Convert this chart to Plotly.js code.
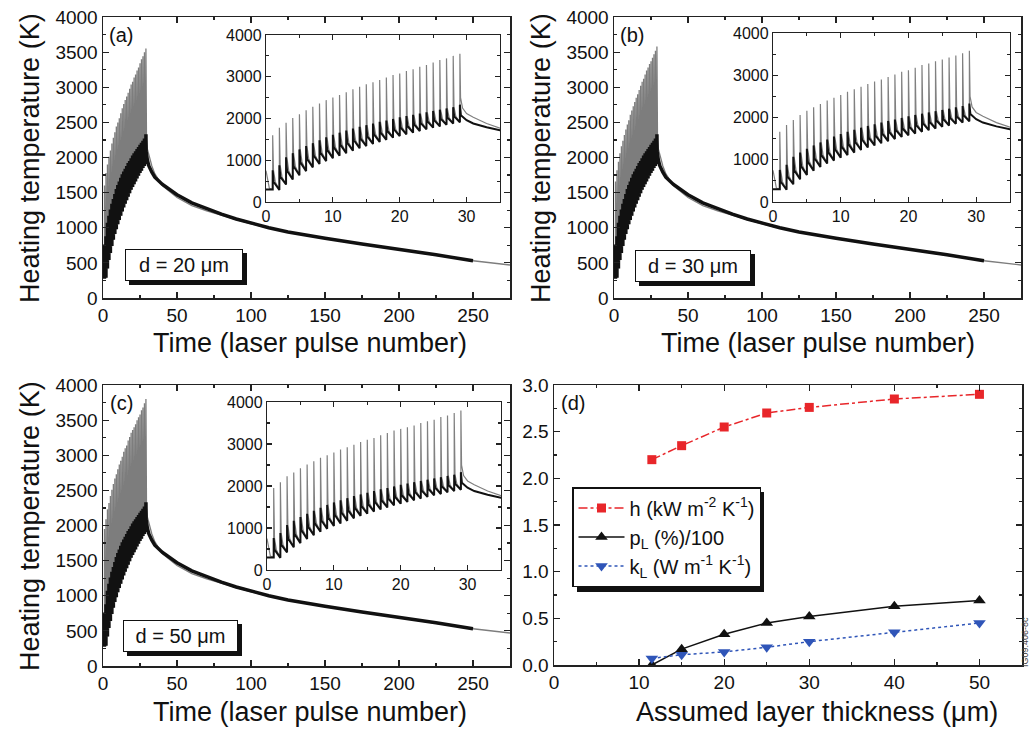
<!DOCTYPE html>
<html><head><meta charset="utf-8">
<script src="https://cdn.plot.ly/plotly-3.0.1.min.js"></script>
<style>html,body{margin:0;padding:0;background:#fff}#chart{width:1029px;height:731px}</style>
</head><body><div id="chart"></div>
<script>
// ---------- data ----------
const pulseNo = [1,2,3,4,5,6,7,8,9,10,11,12,13,14,15,16,17,18,19,20,21,22,23,24,25,26,27,28,29];
// black (surface) curve: value just before each pulse, spike top, value shortly after the spike
const troughT   = [300,290,420,540,640,740,830,910,980,1050,1110,1170,1230,1290,1340,1390,1440,1490,1540,1580,1620,1660,1700,1740,1780,1810,1850,1880,1910];
const blackPeak = [760,880,1070,1170,1260,1340,1410,1480,1550,1610,1660,1710,1760,1800,1840,1880,1920,1950,1990,2030,2060,2090,2120,2150,2180,2210,2240,2270,2330];
const blackKnee = [480,600,750,850,950,1030,1110,1180,1250,1310,1370,1420,1480,1520,1570,1620,1660,1700,1740,1780,1820,1860,1890,1930,1960,1990,2020,2050,2080];
// grey curve spike tops per panel
const greyPeakA = [1600,1780,1900,2010,2100,2200,2280,2360,2440,2500,2560,2630,2700,2760,2820,2870,2920,2980,3040,3080,3140,3180,3240,3280,3340,3400,3440,3500,3550];
const greyPeakB = [1660,1820,1940,2060,2160,2240,2320,2400,2470,2530,2610,2670,2730,2790,2850,2900,2960,3020,3080,3120,3180,3240,3280,3330,3370,3420,3470,3520,3580];
const greyPeakC = [1950,2090,2230,2320,2420,2510,2590,2670,2730,2800,2870,2920,2980,3050,3100,3140,3210,3260,3320,3360,3400,3440,3500,3540,3580,3640,3680,3740,3800];
// grey curve before the first pulse
const greyStartX = [0, 0.5];
const greyStart  = [750, 330];
// cooling after the last pulse
const tailBlackX = [29.15,30,31,33,35,40,50,60,70,80,90,100,112,125,137,150,175,200,225,250];
const tailBlack  = [2080,1960,1880,1790,1720,1620,1470,1355,1270,1195,1125,1065,1000,940,893,850,770,695,615,530];
const tailGreyX  = [29.1,29.4,30,31,33,35,40,50,60,70,80,90,100,112,125,137,150,175,200,225,250,275];
const tailGrey   = [2500,2250,2120,2030,1880,1770,1600,1430,1315,1240,1175,1110,1055,995,935,890,845,765,690,612,530,470];
// panel (d)
const thickness = [11.5,15,20,25,30,40,50];
const hVals  = [2.20,2.35,2.55,2.70,2.76,2.85,2.90];
const pLVals = [0.00,0.17,0.33,0.45,0.52,0.63,0.69];
const kLVals = [0.07,0.11,0.14,0.19,0.25,0.35,0.45];
const seriesNames = ['h (kW m<sup>-2</sup> K<sup>-1</sup>)','p<sub>L</sub> (%)/100','k<sub>L</sub> (W m<sup>-1</sup> K<sup>-1</sup>)'];
const boxLabels = ['d = 20 μm','d = 30 μm','d = 50 μm'];
const panelLabels = ['(a)','(b)','(c)','(d)'];
const yTitle = 'Heating temperature (K)';
const xTitleT = 'Time (laser pulse number)';
const xTitleD = 'Assumed layer thickness (μm)';

// ---------- helpers ----------
const W = 1029, H = 731;
const px = v => v / W;
const py = v => 1 - v / H;
const FONT = 'Liberation Sans, Arial, Helvetica, sans-serif';

function greySeries(peaks){
  const x = greyStartX.slice(), y = greyStart.slice();
  const last = pulseNo.length - 1;
  pulseNo.forEach((n,i)=>{
    x.push(n, n); y.push(troughT[i], peaks[i]);
    if(i < last){ x.push(n+0.12, n+0.4); y.push(blackPeak[i], blackKnee[i]); }
  });
  tailGreyX.forEach((t,j)=>{ x.push(t); y.push(tailGrey[j]); });
  return {x, y};
}
function blackSeries(){
  const x = [0], y = [troughT[0]];
  const last = pulseNo.length - 1;
  pulseNo.forEach((n,i)=>{
    x.push(n, n); y.push(troughT[i], blackPeak[i]);
    if(i < last){ x.push(n+0.15); y.push(blackKnee[i]); }
  });
  tailBlackX.forEach((t,j)=>{ x.push(t); y.push(tailBlack[j]); });
  return {x, y};
}

const traces = [];
const greyPeaks = [greyPeakA, greyPeakB, greyPeakC];
const blk = blackSeries();
// axis pairs: main a=1, inset a=2, main b=3, inset b=4, main c=5, inset c=6, d=7
for(let p=0;p<3;p++){
  const g = greySeries(greyPeaks[p]);
  const mainIdx = 2*p+1, insIdx = 2*p+2;
  const ax = i => i===1 ? '' : String(i);
  traces.push({x:g.x, y:g.y, xaxis:'x'+ax(mainIdx), yaxis:'y'+ax(mainIdx), mode:'lines',
    line:{color:'#7d7d7d', width:1.3}, showlegend:false, hoverinfo:'skip'});
  traces.push({x:blk.x, y:blk.y, xaxis:'x'+ax(mainIdx), yaxis:'y'+ax(mainIdx), mode:'lines',
    line:{color:'#111', width:3.5}, showlegend:false, hoverinfo:'skip'});
  traces.push({x:g.x, y:g.y, xaxis:'x'+insIdx, yaxis:'y'+insIdx, mode:'lines',
    line:{color:'#808080', width:1.2}, showlegend:false, hoverinfo:'skip'});
  traces.push({x:blk.x, y:blk.y, xaxis:'x'+insIdx, yaxis:'y'+insIdx, mode:'lines',
    line:{color:'#111', width:2}, showlegend:false, hoverinfo:'skip'});
}
traces.push({x:thickness, y:hVals, xaxis:'x7', yaxis:'y7', mode:'lines+markers', name:seriesNames[0],
  line:{color:'#e8262a', width:1.5, dash:'dashdot'}, marker:{symbol:'square', size:9, color:'#e8262a'}});
traces.push({x:thickness, y:pLVals, xaxis:'x7', yaxis:'y7', mode:'lines+markers', name:seriesNames[1],
  line:{color:'#111', width:1.5}, marker:{symbol:'triangle-up', size:11, color:'#111'}});
traces.push({x:thickness, y:kLVals, xaxis:'x7', yaxis:'y7', mode:'lines+markers', name:seriesNames[2],
  line:{color:'#2f55b8', width:1.5, dash:'dot'}, marker:{symbol:'triangle-down', size:11, color:'#2f55b8'}});

function axisBase(extra){
  return Object.assign({
    showline:true, linecolor:'#222', linewidth:1.5, mirror:'allticks',
    ticks:'inside', ticklen:6, tickwidth:1.2, tickcolor:'#222',
    showgrid:false, zeroline:false, fixedrange:true,
    tickfont:{family:FONT, size:19, color:'#111'}
  }, extra);
}
const layout = {
  width:W, height:H, margin:{l:0,r:0,t:0,b:0},
  paper_bgcolor:'#fff', plot_bgcolor:'rgba(0,0,0,0)',
  font:{family:FONT, color:'#111'},
  showlegend:true,
  legend:{x:px(572), y:py(487), xanchor:'left', yanchor:'top', bgcolor:'#fff',
    bordercolor:'#111', borderwidth:1.5, font:{family:FONT, size:20, color:'#111'},
    tracegroupgap:0, itemwidth:46},
};
// main panels
const mainDom = [ {x:[103,510], y:[17,298]}, {x:[614,1021], y:[17,298]}, {x:[103,510], y:[385,666]} ];
const insDom  = [ {x:[266,500], y:[35,202]}, {x:[773,1010], y:[33,202]}, {x:[267,501], y:[402,570]} ];
for(let p=0;p<3;p++){
  const m = 2*p+1, s = 2*p+2;
  const kx = m===1 ? 'xaxis' : 'xaxis'+m, ky = m===1 ? 'yaxis' : 'yaxis'+m;
  layout[kx] = axisBase({domain:[px(mainDom[p].x[0]), px(mainDom[p].x[1])], range:[0,275], tick0:0, dtick:50,
    anchor: m===1 ? 'y' : 'y'+m, minor:{ticks:'inside', ticklen:3, dtick:25, tick0:0, tickcolor:'#222'}});
  layout[ky] = axisBase({domain:[py(mainDom[p].y[1]), py(mainDom[p].y[0])], range:[0,4000], tick0:0, dtick:500,
    anchor: m===1 ? 'x' : 'x'+m, minor:{ticks:'inside', ticklen:3, dtick:250, tick0:0, tickcolor:'#222'}});
  layout['xaxis'+s] = axisBase({domain:[px(insDom[p].x[0]), px(insDom[p].x[1])], range:[0,35], tick0:0, dtick:10,
    anchor:'y'+s, ticklen:5, linewidth:1.2, tickfont:{family:FONT, size:16, color:'#111'},
    minor:{ticks:'inside', ticklen:3, dtick:5, tick0:0, tickcolor:'#222'}});
  layout['yaxis'+s] = axisBase({domain:[py(insDom[p].y[1]), py(insDom[p].y[0])], range:[0,4000], tick0:0, dtick:1000,
    anchor:'x'+s, ticklen:5, linewidth:1.2, tickfont:{family:FONT, size:16, color:'#111'},
    minor:{ticks:'inside', ticklen:3, dtick:500, tick0:0, tickcolor:'#222'}});
}
layout.xaxis7 = axisBase({domain:[px(554), px(1022)], range:[0,55], tick0:0, dtick:10, anchor:'y7',
  minor:{ticks:'inside', ticklen:3, dtick:5, tick0:0, tickcolor:'#222'}});
layout.yaxis7 = axisBase({domain:[py(665), py(385)], range:[0,3.0], tick0:0, dtick:0.5, tickformat:'.1f', anchor:'x7',
  minor:{ticks:'inside', ticklen:3, dtick:0.25, tick0:0, tickcolor:'#222'}});

const ann = [];
function addText(text, x, y, size, extra){
  ann.push(Object.assign({text, x:px(x), y:py(y), xref:'paper', yref:'paper', showarrow:false,
    font:{family:FONT, size:size, color:'#111'}, xanchor:'center', yanchor:'middle'}, extra||{}));
}
// axis titles
addText(yTitle, 30, 158, 27, {textangle:-90});
addText(yTitle, 541, 158, 27, {textangle:-90});
addText(yTitle, 30, 526, 27, {textangle:-90});
addText(xTitleT, 310, 343, 27);
addText(xTitleT, 818, 343, 27);
addText(xTitleT, 310, 712, 27);
addText(xTitleD, 817, 712, 27);
// panel labels
addText(panelLabels[0], 121, 35, 20);
addText(panelLabels[1], 632, 35, 20);
addText(panelLabels[2], 121, 403, 20);
addText(panelLabels[3], 573, 403, 20);
// thickness boxes with drop shadow
const boxes = [[125,249,118,32],[635,250,116,32],[123,620,115,32]];
const shapes = [];
boxes.forEach((b,i)=>{
  shapes.push({type:'rect', xref:'paper', yref:'paper', x0:px(b[0]+4), x1:px(b[0]+b[2]+4), y0:py(b[1]+b[3]+4), y1:py(b[1]+4),
    fillcolor:'#111', line:{width:0}, layer:'above'});
  ann.push({text:boxLabels[i], x:px(b[0]+b[2]/2), y:py(b[1]+b[3]/2), xref:'paper', yref:'paper', showarrow:false,
    xanchor:'center', yanchor:'middle', width:b[2]-4, height:b[3]-4, borderpad:1, bgcolor:'#fff',
    bordercolor:'#111', borderwidth:1, font:{family:FONT, size:20, color:'#111'}});
});
// legend shadow
shapes.push({type:'rect', xref:'paper', yref:'paper', x0:px(577), x1:px(764), y0:py(592), y1:py(492),
  fillcolor:'#111', line:{width:0}, layer:'above'});
// small rotated figure id at right edge
addText('IG09.406-8c', 1025, 642, 9, {textangle:-90, font:{family:FONT, size:9, color:'#444'}});
layout.annotations = ann;
layout.shapes = shapes;

Plotly.newPlot('chart', traces, layout, {staticPlot:true, displayModeBar:false});
</script>
</body></html>
